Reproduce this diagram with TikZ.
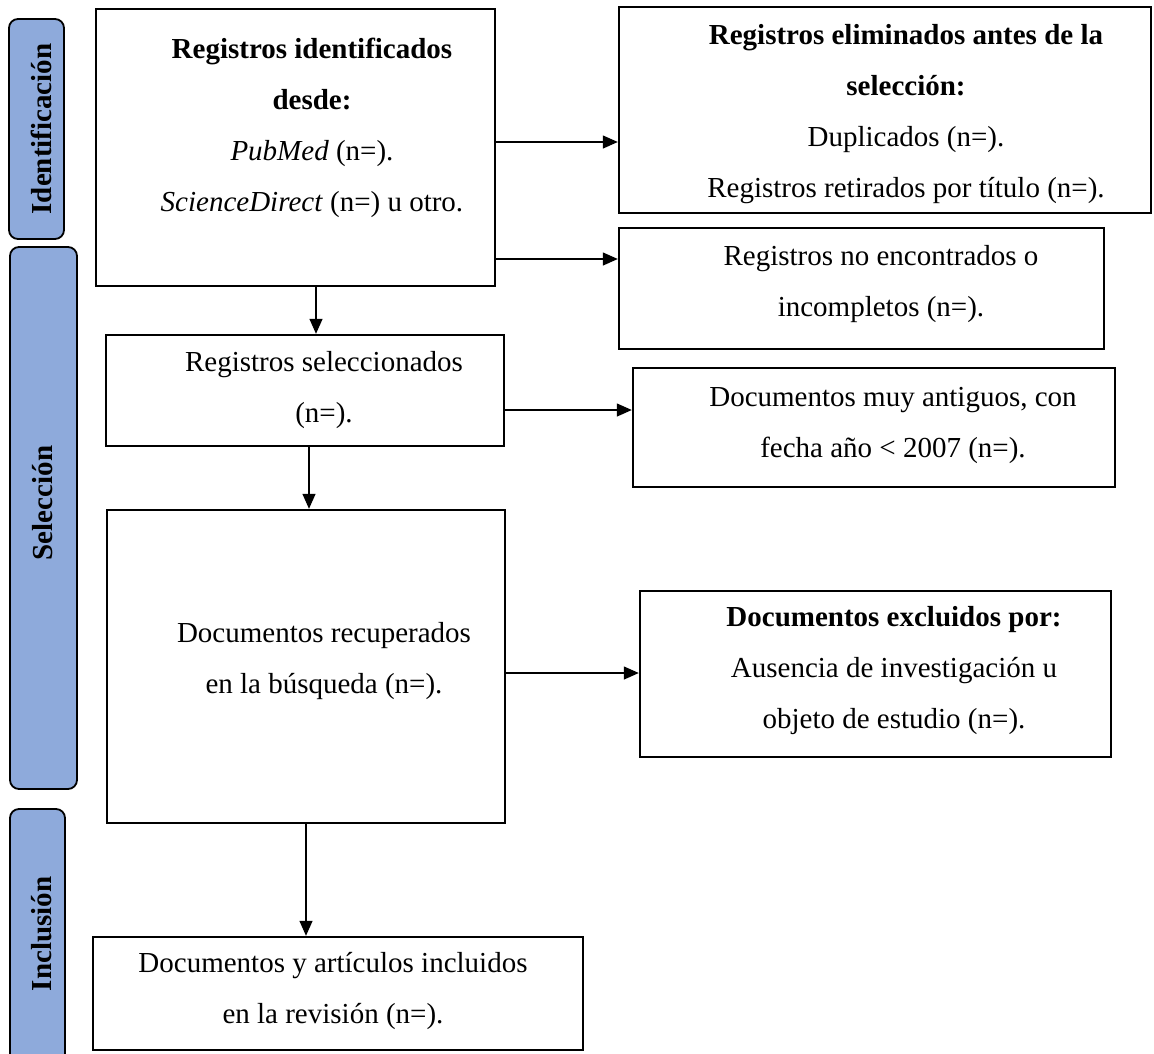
\documentclass[tikz,border=0pt]{standalone}
\usepackage{fontspec}
\setmainfont{Liberation Serif}
\usetikzlibrary{arrows.meta}
\definecolor{barblue}{HTML}{8EAADB}
\begin{document}
\begin{tikzpicture}[x=1pt,y=-1pt,
  box/.style={draw, line width=2.4pt, inner sep=0pt},
  txt/.style={align=center, inner sep=0pt, font=\fontsize{29}{51}\selectfont},
  bartxt/.style={inner sep=0pt, rotate=90, font=\fontsize{29}{34}\selectfont\bfseries},
  bar/.style={draw, line width=1.8pt, fill=barblue, rounded corners=9pt},
  arr/.style={line width=1.3pt, -{Triangle[length=15pt,width=13pt]}}]
\useasboundingbox (0,0) rectangle (1154,1053);
\clip (0,0) rectangle (1154,1053);
% phase bars
\draw[bar] (9,19) rectangle (64,239);
\draw[bar] (10,247) rectangle (77,789);
\draw[bar] (10,809) rectangle (65,1070);
\node[bartxt] (l1) at (41,129) {Identificación};
\node[bartxt] (l2) at (43,503) {Selección};
\node[bartxt] (l3) at (42,934) {Inclusión};
% boxes
\node[box, minimum width=399pt, minimum height=277pt] (b1) at (295.5,147.5) {};
\node[box, minimum width=532pt, minimum height=206pt] (b2) at (885,110) {};
\node[box, minimum width=485pt, minimum height=121pt] (b3) at (861.5,288.5) {};
\node[box, minimum width=482pt, minimum height=119pt] (b4) at (874,427.5) {};
\node[box, minimum width=398pt, minimum height=111pt] (b5) at (305,390.5) {};
\node[box, minimum width=471pt, minimum height=166pt] (b6) at (875.5,674) {};
\node[box, minimum width=398pt, minimum height=313pt] (b7) at (306,666.5) {};
\node[box, minimum width=490pt, minimum height=113pt] (b8) at (338,993.5) {};
% texts
\node[txt] (t1) at (312,128) {\textbf{Registros identificados}\\\textbf{desde:}\\\textit{PubMed} (n=).\\\textit{ScienceDirect} (n=) u otro.};
\node[txt] (t2) at (906,114) {\textbf{Registros eliminados antes de la}\\\textbf{selección:}\\Duplicados (n=).\\Registros retirados por título (n=).};
\node[txt] (t3) at (881,284) {Registros no encontrados o\\incompletos (n=).};
\node[txt] (t4) at (893,425) {Documentos muy antiguos, con\\fecha año < 2007 (n=).};
\node[txt] (t5) at (324,390) {Registros seleccionados\\(n=).};
\node[txt] (t6) at (894,671) {\textbf{Documentos excluidos por:}\\Ausencia de investigación u\\objeto de estudio (n=).};
\node[txt] (t7) at (324,661) {Documentos recuperados\\en la búsqueda (n=).};
\node[txt] (t8) at (333,991) {Documentos y artículos incluidos\\en la revisión (n=).};
% connector levels
\coordinate (h1) at (0,142);
\coordinate (h2) at (0,259);
\coordinate (h3) at (0,410);
\coordinate (h4) at (0,673);
\coordinate (v1) at (316,0);
\coordinate (v2) at (309,0);
\coordinate (v3) at (306,0);
% arrows
\draw[arr] (b1.east |- h1) -- (b2.west |- h1);
\draw[arr] (b1.east |- h2) -- (b3.west |- h2);
\draw[arr] (b5.east |- h3) -- (b4.west |- h3);
\draw[arr] (b7.east |- h4) -- (b6.west |- h4);
\draw[arr] (b1.south -| v1) -- (b5.north -| v1);
\draw[arr] (b5.south -| v2) -- (b7.north -| v2);
\draw[arr] (b7.south -| v3) -- (b8.north -| v3);
\end{tikzpicture}
\end{document}
